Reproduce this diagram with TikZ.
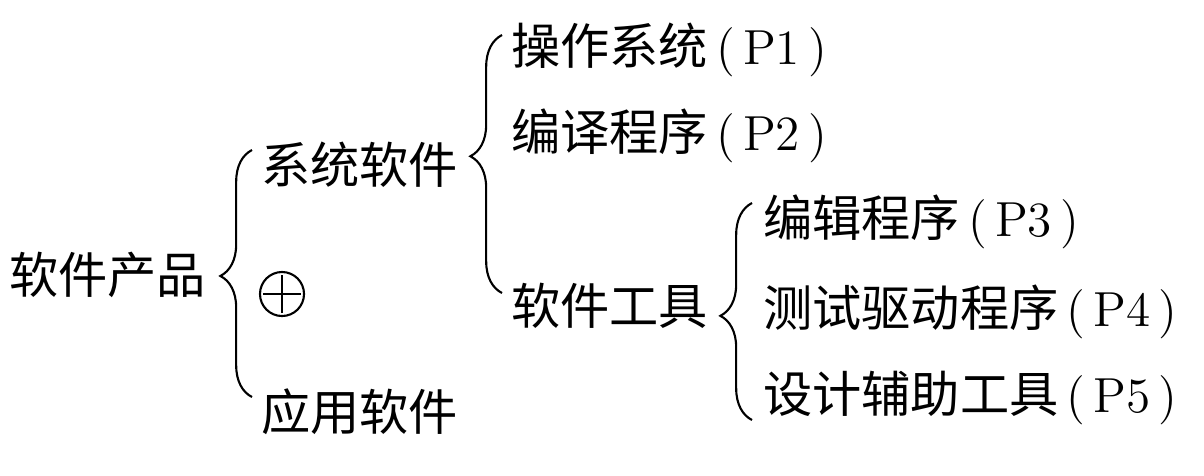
\documentclass[tikz,border=0pt]{standalone}
\usepackage{fontspec}
\newfontfamily\cjk{Noto Sans CJK SC}
\usetikzlibrary{decorations.pathreplacing}

% program number in brackets
\newcommand{\prognum}[1]{{\rmfamily\,(\,P#1\,)}}

\begin{document}
\begin{tikzpicture}[
		x=0.01cm, y=-0.01cm,
		line width=0.6pt,
		item/.style={anchor=west, inner sep=0pt, font=\cjk\fontsize{14pt}{16pt}\selectfont},
		curly/.style={decorate, decoration={brace, amplitude=9pt, aspect=#1}},
		curly/.default=0.5,
		xor_sign/.style={circle, draw, minimum size=0.44cm, inner sep=0pt,
			path picture={
				\draw ([xshift=-0.19cm]path picture bounding box.center) -- ([xshift=0.19cm]path picture bounding box.center);
				\draw ([yshift=-0.19cm]path picture bounding box.center) -- ([yshift=0.19cm]path picture bounding box.center);
			}}
		]
		\useasboundingbox (0,0) rectangle (1204,475);
		
		% --- ROOT ---
		\node[item] (product) at (8,275) {软件产品};
		
		% --- FIRST LEVEL ---
		\node[item] (system) at (260,165) {系统软件};
		\node[xor_sign] (xor) at (282,294) {};
		\node[item] (apps) at (260,412) {应用软件};
		
		% --- SECOND LEVEL ---
		\node[item] (os) at (510,50) {操作系统\prognum{1}};
		\node[item] (compiler) at (510,136) {编译程序\prognum{2}};
		\node[item] (tools) at (510,306) {软件工具};
		
		% --- THIRD LEVEL ---
		\node[item] (editor) at (762,222) {编辑程序\prognum{3}};
		\node[item] (driver) at (762,312) {测试驱动程序\prognum{4}};
		\node[item] (cad) at (762,398) {设计辅助工具\prognum{5}};
		
		% --- BRACE END POINTS ---
		\coordinate (b1top) at (252,150);
		\coordinate (b1bot) at (252,397);
		\coordinate (b2top) at (502,35);
		\coordinate (b2bot) at (502,293);
		\coordinate (b3top) at (752,203);
		\coordinate (b3bot) at (752,420);
		
		% --- BRACES ---
		\draw[curly=0.49] (b1bot) -- (b1top);
		\draw[curly=0.53] (b2bot) -- (b2top);
		\draw[curly=0.48] (b3bot) -- (b3top);
		
\end{tikzpicture}
\end{document}
